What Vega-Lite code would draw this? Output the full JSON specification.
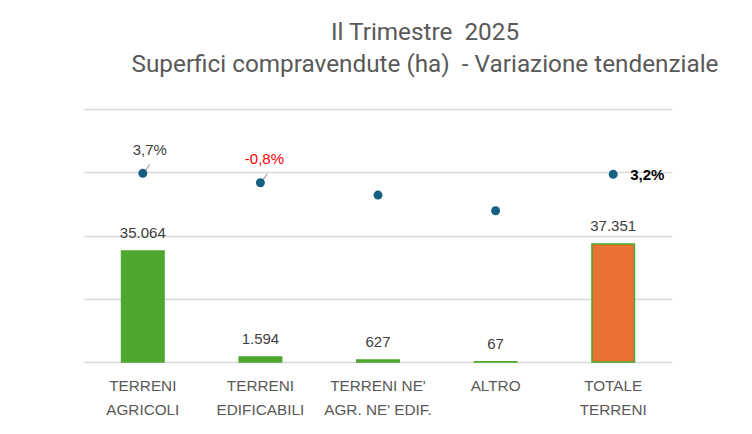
{
  "$schema": "https://vega.github.io/schema/vega-lite/v6.json",
  "width": 588,
  "height": 253,
  "autosize": {"type": "none"},
  "padding": {"left": 84, "top": 109, "right": 80, "bottom": 72},
  "background": "white",
  "title": {
    "text": ["Il Trimestre\u00a0 2025", "Superfici compravendute (ha)\u00a0 - Variazione tendenziale"],
    "anchor": "middle",
    "dx": 47,
    "offset": 13,
    "baseline": "alphabetic",
    "lineHeight": 31.5,
    "font": "Roboto, Liberation Sans",
    "fontSize": 24.3,
    "fontWeight": "normal",
    "color": "#595959"
  },
  "config": {
    "view": {"stroke": null},
    "locale": {"number": {"decimal": ",", "thousands": ".", "grouping": [3], "currency": ["", " €"], "minus": "-"}}
  },
  "data": {
    "values": [
      {"cat": "TERRENI|AGRICOLI", "ha": 35064, "var": 0.037, "gruppo": "dettaglio"},
      {"cat": "TERRENI|EDIFICABILI", "ha": 1594, "var": -0.008, "gruppo": "dettaglio"},
      {"cat": "TERRENI NE'|AGR. NE' EDIF.", "ha": 627, "var": -0.067, "gruppo": "dettaglio"},
      {"cat": "ALTRO", "ha": 67, "var": -0.142, "gruppo": "dettaglio"},
      {"cat": "TOTALE|TERRENI", "ha": 37351, "var": 0.032, "gruppo": "totale"}
    ]
  },
  "encoding": {
    "x": {
      "field": "cat",
      "type": "nominal",
      "sort": null,
      "axis": {
        "title": null,
        "labelAngle": 0,
        "domain": false,
        "ticks": false,
        "labelExpr": "split(datum.label, '|')",
        "labelFont": "Liberation Sans",
        "labelFontSize": 15.3,
        "labelColor": "#595959",
        "labelPadding": 16,
        "labelLineHeight": 24
      }
    }
  },
  "layer": [
    {
      "layer": [
        {
          "mark": {"type": "bar", "size": 42.5, "stroke": "#4EA72E", "strokeWidth": 1.5},
          "encoding": {
            "y": {
              "field": "ha",
              "type": "quantitative",
              "scale": {"domain": [0, 80000], "nice": false},
              "axis": {
                "values": [0, 20000, 40000, 60000, 80000],
                "grid": true,
                "gridColor": "#D9D9D9",
                "gridWidth": 1.5,
                "labels": false,
                "ticks": false,
                "domain": false,
                "title": null
              }
            },
            "color": {
              "field": "gruppo",
              "type": "nominal",
              "scale": {"domain": ["dettaglio", "totale"], "range": ["#4EA72E", "#E97132"]},
              "legend": null
            }
          }
        },
        {
          "mark": {"type": "text", "baseline": "alphabetic", "dy": -13, "font": "Liberation Sans", "fontSize": 15, "color": "#404040"},
          "encoding": {
            "y": {"field": "ha", "type": "quantitative"},
            "text": {"field": "ha", "type": "quantitative", "format": ",.0f"}
          }
        }
      ]
    },
    {
      "layer": [
        {
          "transform": [{"filter": "indexof(['TERRENI|AGRICOLI','TERRENI|EDIFICABILI'], datum.cat) >= 0"}],
          "mark": {"type": "rule", "color": "#A6A6A6", "strokeWidth": 1.2, "xOffset": 2, "yOffset": -2, "x2Offset": 7, "y2Offset": -9},
          "encoding": {
            "y": {"field": "var", "type": "quantitative", "scale": {"domain": [-0.864, 0.344], "nice": false, "zero": false}, "axis": null},
            "y2": {"field": "var"},
            "x2": {"field": "cat"}
          }
        },
        {
          "mark": {"type": "point", "filled": true, "opacity": 1, "size": 80, "color": "#156082"},
          "encoding": {
            "y": {"field": "var", "type": "quantitative"}
          }
        },
        {
          "transform": [{"filter": "datum.cat == 'TERRENI|AGRICOLI'"}],
          "mark": {"type": "text", "baseline": "alphabetic", "dx": 7, "dy": -18, "font": "Liberation Sans", "fontSize": 15, "color": "#404040"},
          "encoding": {
            "y": {"field": "var", "type": "quantitative"},
            "text": {"field": "var", "type": "quantitative", "format": ".1%"}
          }
        },
        {
          "transform": [{"filter": "datum.cat == 'TERRENI|EDIFICABILI'"}],
          "mark": {"type": "text", "baseline": "alphabetic", "dx": 4, "dy": -18.5, "font": "Liberation Sans", "fontSize": 15, "color": "#FF0000"},
          "encoding": {
            "y": {"field": "var", "type": "quantitative"},
            "text": {"field": "var", "type": "quantitative", "format": ".1%"}
          }
        },
        {
          "transform": [{"filter": "datum.cat == 'TOTALE|TERRENI'"}],
          "mark": {"type": "text", "align": "left", "baseline": "middle", "dx": 17, "dy": 1, "font": "Liberation Sans", "fontSize": 15, "fontWeight": "bold", "color": "#000000"},
          "encoding": {
            "y": {"field": "var", "type": "quantitative"},
            "text": {"field": "var", "type": "quantitative", "format": ".1%"}
          }
        }
      ]
    }
  ],
  "resolve": {"scale": {"y": "independent"}}
}
